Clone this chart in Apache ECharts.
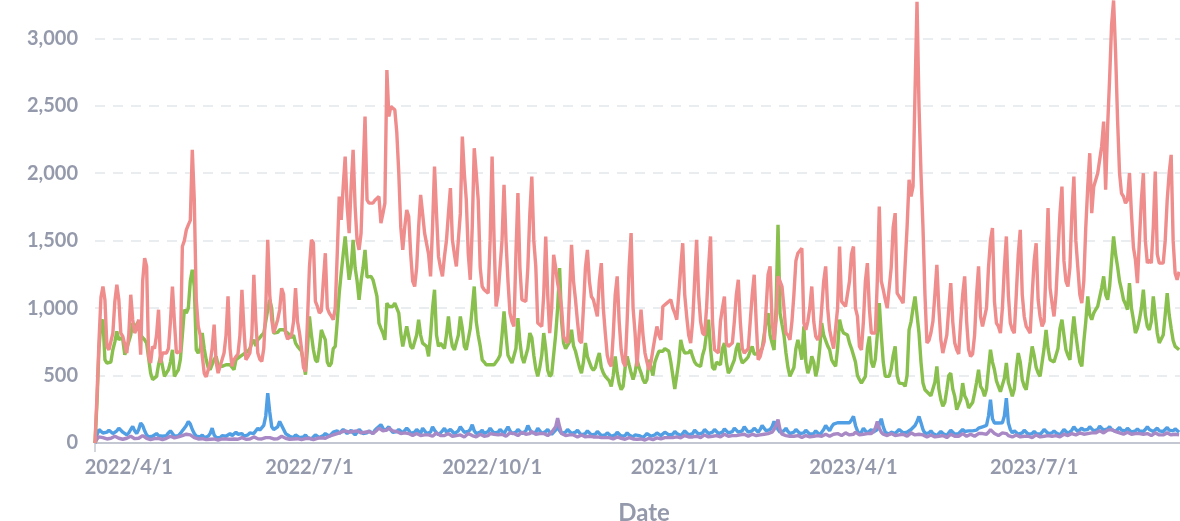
<!DOCTYPE html>
<html><head><meta charset="utf-8">
<script src="https://cdn.jsdelivr.net/npm/echarts@6/dist/echarts.min.js"></script>
<style>html,body{margin:0;padding:0;background:#fff}#c{width:1180px;height:521px}</style>
</head><body><div id="c"></div>
<script>
const startYear = 2022, startMonth = 3, startDay = 15;
const dayCount = 554;
const tickLabels = ['2022/4/1','2022/7/1','2022/10/1','2023/1/1','2023/4/1','2023/7/1'];
const seriesNames = ['Series A','Series B','Series C','Series D'];

const red = [
0,350,750,1080,1160,1060,716,691,700,815,
1050,1173,1062,815,790,780,667,800,1099,914,
815,850,914,654,1200,1370,1309,642,593,716,
700,800,988,593,667,667,667,700,900,1160,
900,667,667,680,1457,1500,1580,1617,1650,2173,
1802,1060,864,800,650,518,490,481,593,700,
877,600,518,568,580,667,800,1087,700,568,
617,640,660,800,1136,850,617,640,667,800,
1247,900,667,620,605,700,1000,1506,1100,914,
815,815,914,988,1148,1100,815,770,770,800,
900,1148,900,815,700,560,531,900,1300,1506,
1481,1050,1012,963,980,1200,1407,1000,963,940,
914,1000,1400,1827,1654,1900,2123,1753,1555,1900,
2173,1753,1500,1432,1555,2000,2420,1802,1778,1778,
1778,1800,1802,1827,1630,1700,1778,2765,2420,2494,
2494,2469,2300,2000,1600,1432,1600,1728,1679,1400,
1200,1160,1300,1600,1839,1700,1556,1556,1400,1235,
1600,2049,1700,1383,1300,1235,1383,1500,1700,1889,
1506,1400,1309,1309,1700,2271,2000,1802,1400,1210,
1600,2185,2000,1802,1300,1160,1136,1136,1111,1500,
2123,1500,1012,1100,1111,1500,1913,1500,1200,963,
900,864,1400,1852,1300,1062,1060,1049,1300,1700,
1975,1500,1309,889,880,864,1100,1531,1100,815,
1000,1395,1300,1185,1111,1000,790,760,741,1100,
1469,1200,1062,900,760,741,1000,1300,1432,1200,
1086,1062,1000,938,1200,1333,1000,815,650,593,
568,800,1100,1235,900,691,600,568,900,1300,
1556,1000,815,568,800,988,800,667,600,543,
600,691,780,864,800,765,1012,1020,1037,1050,
1062,1000,963,914,1100,1300,1481,1100,938,800,
741,900,1200,1506,1100,900,815,800,1000,1300,
1531,900,691,680,667,900,1000,1086,741,716,
716,741,900,1100,1210,900,700,667,667,700,
900,1100,1247,900,617,640,700,750,1000,1250,
1309,900,765,900,1235,1200,1160,1000,815,800,
765,900,1100,1350,1407,1420,1444,889,839,900,
1000,1160,900,790,765,800,1000,1200,1309,1000,
838,765,700,691,1000,1457,1050,1037,1012,1000,
1200,1400,1457,1000,938,716,691,900,1200,1333,
1000,815,815,815,1200,1753,1200,1136,1062,1000,
988,1300,1600,1704,1111,1086,1062,1037,1037,1600,
1951,1827,1901,2600,3270,2500,2000,1600,1100,741,
760,815,900,1100,1321,1000,765,667,667,800,
1000,1185,900,741,691,660,900,1100,1235,900,
691,642,660,800,1100,1309,938,864,864,1000,
1300,1500,1593,1050,889,864,815,1000,1300,1531,
1100,889,840,815,1100,1400,1580,1100,938,864,
840,815,1100,1350,1481,1062,938,864,900,1300,
1741,1150,1037,938,1100,1400,1700,1901,1350,1200,
1160,1300,1700,1975,1500,1300,1100,1037,1200,1600,
1900,2148,1704,1900,1901,2000,2100,2200,2383,1877,
2346,2700,3100,3280,2900,2400,2000,1850,1827,1778,
1800,2000,1700,1450,1358,1185,1500,1800,2000,1500,
1333,1358,1333,1600,2012,1400,1333,1320,1333,1500,
1800,2000,2136,1500,1259,1210,1270
];

const green = [
0,300,700,889,914,617,593,593,600,691,
750,827,765,780,765,654,700,750,800,889,
860,880,901,800,780,765,740,630,518,470,
457,494,580,642,568,494,520,543,600,691,
494,520,543,620,800,988,963,1000,1200,1284,
1160,691,667,700,815,700,617,560,543,543,
620,642,580,568,568,570,580,590,580,580,
543,617,620,640,642,660,660,680,700,740,
765,720,765,780,800,815,900,988,1062,1000,
815,815,820,840,850,840,850,815,800,780,
800,740,716,716,680,600,506,700,938,800,
691,617,600,700,839,800,765,600,568,590,
700,716,900,1111,1259,1400,1531,1358,1210,1300,
1506,1300,1200,1062,1200,1300,1432,1230,1235,1235,
1210,1150,1086,889,850,815,765,1037,1012,1000,
1012,1037,1000,963,815,716,790,864,864,716,
700,691,800,914,800,740,740,716,642,800,
1000,1136,800,716,740,720,700,800,938,800,
716,691,700,800,938,850,716,691,700,850,
1000,1160,900,800,720,617,600,580,568,580,
568,580,600,620,650,800,975,800,650,620,
593,600,700,926,750,640,593,580,700,815,
780,650,550,494,560,650,815,700,540,494,
510,518,800,1000,1296,900,741,700,690,750,
839,720,680,620,560,518,600,741,640,600,
560,540,560,620,667,560,520,494,494,460,
420,500,642,520,440,395,420,560,642,580,
520,470,520,617,560,520,470,444,470,617,
560,500,600,642,680,691,680,700,691,680,
600,500,400,395,600,765,700,667,667,670,
690,640,600,580,568,568,650,700,815,914,
700,560,543,600,593,580,700,740,600,518,
540,580,617,700,741,640,593,593,620,640,
680,716,660,667,660,680,700,800,900,963,
800,741,690,1000,1617,963,880,800,667,560,
494,494,560,700,765,700,617,864,600,518,
560,642,600,494,560,700,889,800,790,720,
691,617,590,568,700,914,850,815,815,800,
740,700,691,600,500,469,444,444,494,700,
790,600,560,620,800,1037,800,600,494,494,
494,550,650,716,500,444,444,440,420,500,
839,900,1000,1086,950,815,600,444,395,380,
370,350,346,450,568,400,321,272,300,395,
500,518,400,346,247,260,321,444,350,321,
260,247,300,370,450,543,420,395,346,400,
550,691,600,543,460,420,380,370,480,593,
450,400,346,400,550,667,600,469,420,395,
500,600,716,650,560,520,494,494,700,839,
700,617,610,600,593,700,850,914,800,691,
650,617,800,938,800,691,600,568,750,900,
1086,950,914,963,990,1012,1012,1150,1235,1100,
1062,1160,1350,1531,1400,1309,1200,1136,1062,1030,
988,1185,1000,914,815,850,914,1000,1136,950,
864,839,900,1086,950,815,741,741,800,950,
1111,950,850,760,716,716,691
];

const blue = [
0,
60,99,111,74,70,80,
95,85,70,74,90,110,100,
80,70,60,75,100,123,90,
70,100,148,130,90,60,45,
40,50,60,70,55,45,50,
60,55,75,90,70,50,45,
55,70,90,110,130,160,140,
100,70,50,40,45,60,40,
35,50,70,110,60,40,35,
40,55,60,50,45,70,55,
60,80,65,60,70,50,45,
60,75,85,70,90,110,95,
100,130,200,370,230,120,100,
90,120,160,150,100,70,60,
50,45,40,60,55,40,35,
45,60,40,35,30,45,60,
50,40,45,55,70,60,50,
65,80,75,90,70,85,100,
90,70,80,95,75,60,80,
100,85,70,60,75,90,80,
70,95,110,120,136,110,90,
100,120,95,80,70,85,100,
90,75,80,110,95,70,60,
80,100,85,70,110,90,70,
65,80,120,95,75,60,70,
90,110,80,70,100,85,70,
75,90,120,100,80,70,85,
100,136,90,70,60,80,95,
70,60,85,110,90,75,65,
80,100,85,70,95,120,90,
70,60,80,100,85,70,65,
90,130,100,75,65,80,110,
90,70,60,85,100,80,65,
75,95,120,90,70,60,80,
100,85,70,65,80,95,75,
60,55,70,90,75,60,50,
65,85,70,55,50,60,75,
65,50,45,60,80,65,50,
45,55,75,60,50,45,60,
70,55,45,40,55,70,60,
50,45,60,75,65,55,60,
80,70,60,55,65,85,70,
60,55,70,90,75,60,55,
70,95,80,65,60,75,100,
85,70,60,80,100,85,70,
65,80,105,90,75,70,85,
110,95,80,70,90,120,100,
80,75,90,110,95,80,100,
130,110,90,85,100,120,160,
130,100,80,70,90,110,85,
70,65,80,100,85,70,60,
75,95,80,65,60,70,90,
75,60,70,100,130,110,90,
120,140,148,150,148,150,148,
150,148,150,170,197,130,90,
65,80,110,90,75,70,100,
80,70,100,140,180,120,80,
70,65,80,75,70,85,100,
90,75,70,80,90,100,110,
130,160,197,150,100,70,60,
75,90,70,60,55,70,85,
70,60,55,75,95,80,65,
60,70,85,100,85,75,90,
80,90,100,95,110,100,120,
123,130,200,321,180,148,150,
148,145,150,200,333,150,100,
75,90,80,65,60,75,95,
80,65,55,70,85,70,60,
65,80,100,85,70,60,75,
90,75,65,60,80,100,85,
70,80,95,120,100,85,90,
110,95,85,100,120,105,90,
85,100,125,110,95,90,105,
120,100,90,85,100,115,95,
85,90,110,95,80,75,90,
105,90,80,85,100,120,100,
90,85,95,110,90,80,85,
100,115,95,85,90,105,95,80
];

const purple = [
0,
30,45,50,40,35,30,
28,35,40,50,45,35,30,
28,30,35,45,50,40,32,
30,35,45,55,45,35,30,
25,28,32,40,35,28,25,
28,35,42,50,45,38,40,
45,50,55,60,65,70,60,
50,40,35,30,28,32,30,
25,22,28,35,30,25,22,
25,30,35,30,25,28,32,
30,25,28,35,40,33,28,
25,30,38,45,40,32,28,
30,35,40,45,40,35,30,
28,32,40,50,42,35,30,
28,25,30,38,32,27,25,
28,33,40,35,28,25,30,
35,42,38,32,35,45,50,
55,60,65,70,75,80,85,
90,85,80,75,85,95,90,
80,75,70,80,90,85,75,
70,80,95,110,100,90,85,
95,110,100,90,80,85,75,
70,65,75,85,70,60,55,
60,70,65,55,50,60,70,
60,55,50,60,75,65,55,
50,55,65,70,60,50,45,
55,65,60,50,45,55,70,
65,55,50,45,55,65,60,
50,45,55,70,75,65,55,
60,70,65,55,50,60,75,
80,70,60,55,65,80,75,
65,60,70,85,75,65,60,
70,80,70,60,55,65,80,
90,120,185,120,70,60,55,
50,60,70,60,50,45,55,
60,50,45,40,50,55,45,
40,45,50,40,35,40,45,
40,35,30,35,45,40,35,
30,28,35,40,35,30,25,
28,35,30,25,22,28,35,
30,25,30,38,35,30,35,
40,45,40,35,40,50,45,
40,38,45,55,50,45,40,
45,55,50,45,40,50,60,
55,45,40,50,60,55,50,
45,55,65,55,50,45,55,
60,55,50,60,70,65,55,
50,55,65,60,55,50,60,
70,65,60,70,75,80,100,
130,173,100,65,55,55,60,
50,45,50,60,55,45,40,
45,55,50,45,40,50,60,
55,45,50,60,65,55,50,
55,65,75,70,60,55,65,
75,70,60,55,65,80,70,
60,55,65,75,70,60,70,
85,110,160,110,80,65,60,
55,60,70,65,55,50,60,
70,65,55,50,60,75,70,
60,55,65,70,60,50,45,
50,60,55,45,40,50,60,
55,45,40,50,65,60,50,
45,50,60,70,60,50,55,
65,60,50,55,70,80,70,
60,65,80,99,85,70,60,
55,65,75,80,70,55,50,
45,55,60,50,45,40,50,
55,50,45,40,50,60,55,
45,40,50,60,55,45,50,
60,55,50,45,55,65,60,
55,60,70,65,60,65,75,
70,65,60,70,80,75,70,
75,85,90,80,75,85,95,
90,99,95,85,80,75,70,
65,70,80,75,65,60,70,
75,70,60,65,75,70,60,
55,65,75,70,60,55,60,
70,75,65,60,55,65,70,60
];

const categories = [];
const t0 = Date.UTC(startYear, startMonth - 1, startDay);
for (let i = 0; i < dayCount; i++) {
  const dt = new Date(t0 + i * 86400000);
  categories.push(dt.getUTCFullYear() + '/' + (dt.getUTCMonth() + 1) + '/' + dt.getUTCDate());
}

const labelFont = {fontFamily: 'Lato', fontWeight: 'bold', fontSize: 20, color: '#949aab'};
const chart = echarts.init(document.getElementById('c'), null, {renderer: 'canvas'});
function lineSeries(name, data, color) {
  return {name: name, type: 'line', data: data, showSymbol: false, symbol: 'none',
    lineStyle: {color: color, width: 3.4}, itemStyle: {color: color}, z: 2};
}
chart.setOption({
  animation: false,
  grid: {left: 95, right: -13, top: -3, bottom: 78, containLabel: false, outerBoundsMode: 'none'},
  xAxis: {
    type: 'category', data: categories, boundaryGap: false,
    name: 'Date', nameLocation: 'middle', nameGap: 58,
    nameTextStyle: {fontFamily: 'Lato', fontWeight: 'bold', fontSize: 24, color: '#949aab'},
    axisLine: {lineStyle: {color: '#c3c7d1', width: 2}},
    axisTick: {show: true, interval: function (i) { return i === 0; }, length: 9, lineStyle: {color: '#c3c7d1', width: 1.5}},
    axisLabel: Object.assign({interval: function (i, v) { return tickLabels.indexOf(v) >= 0; }, margin: 15}, labelFont),
    splitLine: {show: false}
  },
  yAxis: {
    type: 'value', min: 0, max: 3306, interval: 500,
    axisLine: {show: false}, axisTick: {show: false},
    axisLabel: Object.assign({margin: 17, showMaxLabel: false,
      formatter: function (v) { return v.toLocaleString('en-US'); }}, labelFont),
    splitLine: {lineStyle: {color: '#eaedf0', type: [10, 8], width: 2}}
  },
  series: [
    lineSeries(seriesNames[2], blue, '#509EE3'),
    lineSeries(seriesNames[3], purple, '#A989C5'),
    lineSeries(seriesNames[1], green, '#88BF4D'),
    lineSeries(seriesNames[0], red, '#EF8C8C')
  ]
});
</script>
</body></html>
